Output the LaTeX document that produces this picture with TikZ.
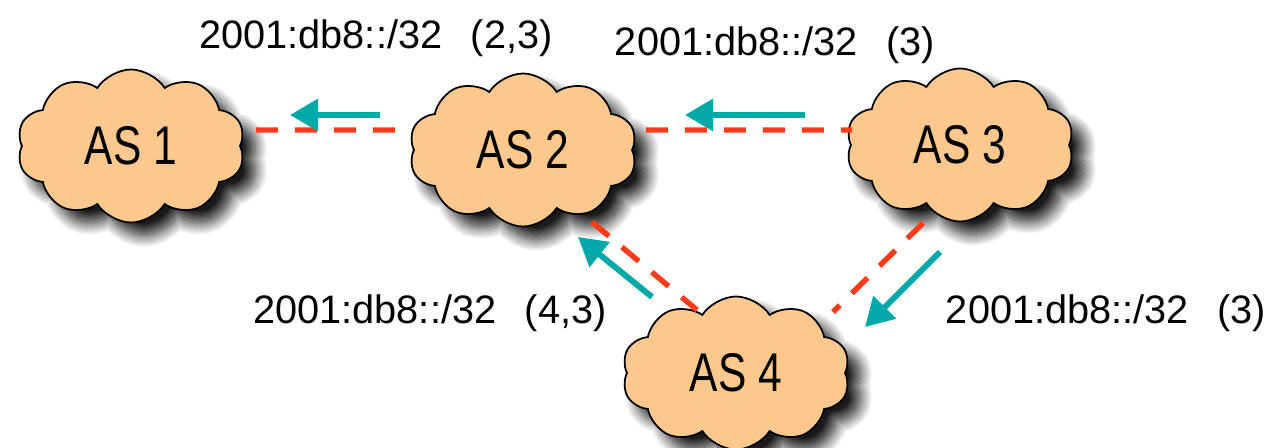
\documentclass[tikz,border=0pt]{standalone}
\usepackage{fontspec}
\setmainfont{Liberation Sans}
\newfontfamily\asfont{Liberation Sans}[FakeStretch=0.78]
\usepackage{xcolor}
\usetikzlibrary{shapes.symbols,shadows.blur,arrows.meta,positioning}

\definecolor{cloudfill}{HTML}{FCC88E}
\definecolor{linkred}{HTML}{FF3B1A}
\definecolor{advteal}{HTML}{00A8A8}

\tikzset{
  as/.style={draw,cloud,cloud puffs=10,cloud puff arc=115,aspect=1.5,
    minimum width=4.56cm,minimum height=3.06cm,fill=cloudfill,line width=1pt,
    font=\asfont\fontsize{31}{32}\selectfont,
    blur shadow={shadow xshift=0.26cm,shadow yshift=-0.26cm,shadow blur radius=0.24cm,
      shadow blur steps=14,shadow opacity=90}},
  link/.style={draw=linkred,line width=3.1pt,dash pattern=on 0.44cm off 0.34cm},
  adv/.style={draw=advteal,line width=3.4pt,-{Triangle[length=0.56cm,width=0.62cm]}},
  route/.style={font=\fontsize{22.6}{24}\selectfont}
}

\begin{document}
\begin{tikzpicture}
    \useasboundingbox (0,0) rectangle (25.6,8.94);
    \node[as] (as1) at (2.62,6.02) {AS 1};
    \node[as] (as2) at (10.46,5.94) {AS 2};
    \node[as] (as3) at (19.2,6.04) {AS 3};
    \node[as] (as4) at (14.72,1.48) {AS 4};
    % links
    \draw[link] ([shift={(0.3,0.32)}]as1.east) -- ([shift={(-0.1,0.4)}]as2.west);
    \draw[link] ([shift={(0.26,0.4)}]as2.east) -- ([shift={(0.04,0.3)}]as3.west);
    \draw[link] ([shift={(1.38,-1.44)}]as2.center) -- ([shift={(-0.78,1.26)}]as4.center);
    \draw[link] ([shift={(-0.74,-1.56)}]as3.center) -- ([shift={(1.94,1.22)}]as4.center);
    % advertisements
    \draw[adv] ([shift={(-2.86,0.7)}]as2.center) -- ([shift={(3.18,0.62)}]as1.center);
    \draw[adv] ([shift={(-3.1,0.6)}]as3.center) -- ([shift={(3.24,0.7)}]as2.center);
    \draw[adv] ([shift={(-1.68,1.52)}]as4.center) -- ([shift={(1.1,-1.74)}]as2.center);
    \draw[adv] ([shift={(-0.4,-2.14)}]as3.center) -- ([shift={(2.58,0.92)}]as4.center);
    % routes
    \node[route] (r12) at (7.52,8.18) {2001:db8::/32~~\,(2,3)};
    \node[route] (r23) at (15.5,8.04) {2001:db8::/32~~\,(3)};
    \node[route] (r42) at (8.6,2.68) {2001:db8::/32~~\,(4,3)};
    \node[route] (r34) at (22.12,2.68) {2001:db8::/32~~\,(3)};
\end{tikzpicture}
\end{document}
